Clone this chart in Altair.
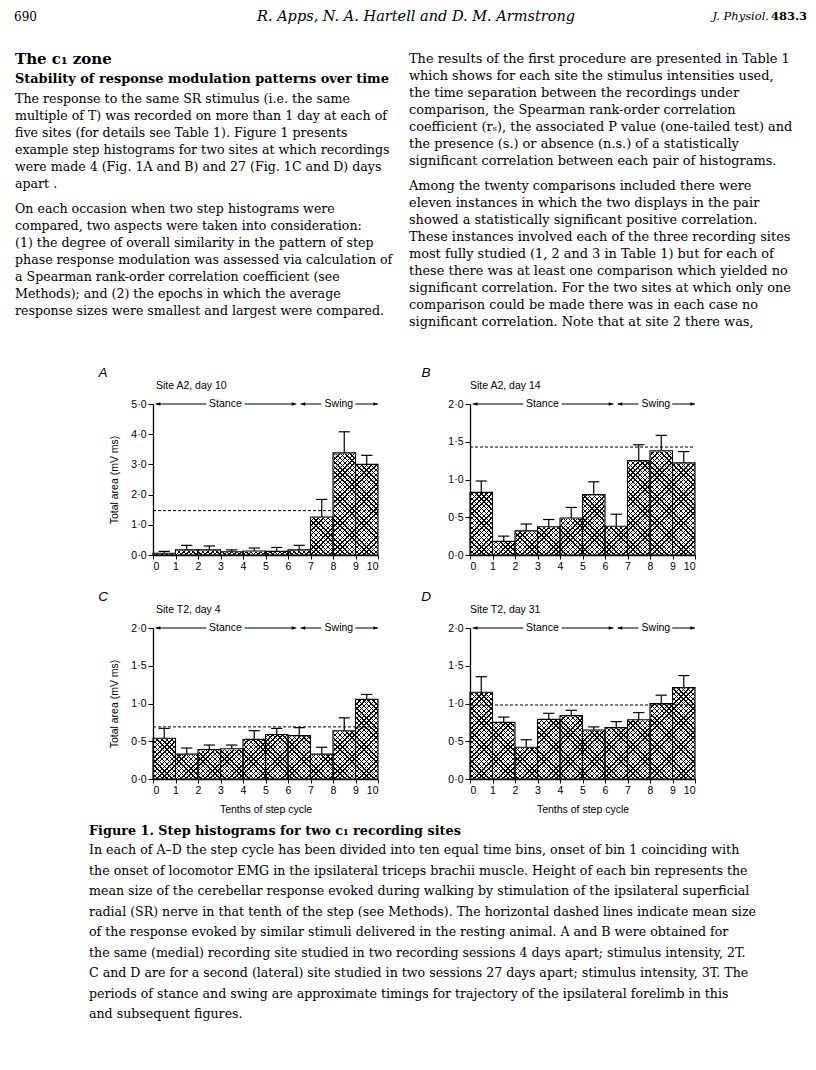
import altair as alt
import pandas as pd

# ---------------- data ----------------
BIN_START = [0, 1, 2, 3, 4, 5, 6, 7, 8, 9]
BIN_END = [1, 2, 3, 4, 5, 6, 7, 8, 9, 10]
X_TICKS = [0, 1, 2, 3, 4, 5, 6, 7, 8, 9, 10]

A_MEAN = [0.06, 0.17, 0.17, 0.11, 0.13, 0.12, 0.17, 1.26, 3.38, 3.00]
A_ERR = [0.12, 0.32, 0.30, 0.17, 0.23, 0.25, 0.32, 1.84, 4.08, 3.30]
A_REST = 1.47
A_YTICKS = [0, 1, 2, 3, 4, 5]

B_MEAN = [0.83, 0.18, 0.32, 0.375, 0.49, 0.80, 0.38, 1.25, 1.38, 1.22]
B_ERR = [0.98, 0.25, 0.41, 0.47, 0.63, 0.97, 0.54, 1.46, 1.585, 1.37]
B_REST = 1.43

C_MEAN = [0.54, 0.33, 0.39, 0.40, 0.525, 0.59, 0.575, 0.33, 0.64, 1.055]
C_ERR = [0.67, 0.41, 0.45, 0.45, 0.64, 0.67, 0.68, 0.42, 0.81, 1.12]
C_REST = 0.69

D_MEAN = [1.15, 0.75, 0.42, 0.79, 0.84, 0.65, 0.68, 0.785, 1.00, 1.21]
D_ERR = [1.355, 0.82, 0.52, 0.87, 0.91, 0.69, 0.76, 0.88, 1.11, 1.37]
D_REST = 0.98

SMALL_YTICKS = [0, 0.5, 1.0, 1.5, 2.0]

PHASE_LABELS = ["Stance", "Swing"]
PHASE_LABEL_X = [3.22, 8.26]
PHASE_SEG_START = [0.12, 4.07, 6.56, 8.99]
PHASE_SEG_END = [2.37, 6.37, 7.48, 10.0]
ARROW_LEFT_X = [0.12, 6.56]
ARROW_RIGHT_X = [6.37, 10.0]

SITES = ["Site A2, day 10", "Site A2, day 14", "Site T2, day 4", "Site T2, day 31"]
LETTERS = ["A", "B", "C", "D"]

# ---------------- page text ----------------
HEADER_PAGE = "690"
HEADER_AUTHORS = "R. Apps, N. A. Hartell and D. M. Armstrong"
HEADER_JOURNAL = "J. Physiol."
HEADER_VOLUME = "483.3"

HEADINGS = ["The c\u2081 zone", "Stability of response modulation patterns over time"]

LEFT_P1 = [
    "The response to the same SR stimulus (i.e. the same",
    "multiple of T) was recorded on more than 1 day at each of",
    "five sites (for details see Table 1). Figure 1 presents",
    "example step histograms for two sites at which recordings",
    "were made 4 (Fig. 1A and B) and 27 (Fig. 1C and D) days",
    "apart .",
]
LEFT_P2 = [
    "On each occasion when two step histograms were",
    "compared, two aspects were taken into consideration:",
    "(1) the degree of overall similarity in the pattern of step",
    "phase response modulation was assessed via calculation of",
    "a Spearman rank-order correlation coefficient (see",
    "Methods); and (2) the epochs in which the average",
    "response sizes were smallest and largest were compared.",
]
RIGHT_P1 = [
    "The results of the first procedure are presented in Table 1",
    "which shows for each site the stimulus intensities used,",
    "the time separation between the recordings under",
    "comparison, the Spearman rank-order correlation",
    "coefficient (r\u209b), the associated P value (one-tailed test) and",
    "the presence (s.) or absence (n.s.) of a statistically",
    "significant correlation between each pair of histograms.",
]
RIGHT_P2 = [
    "Among the twenty comparisons included there were",
    "eleven instances in which the two displays in the pair",
    "showed a statistically significant positive correlation.",
    "These instances involved each of the three recording sites",
    "most fully studied (1, 2 and 3 in Table 1) but for each of",
    "these there was at least one comparison which yielded no",
    "significant correlation. For the two sites at which only one",
    "comparison could be made there was in each case no",
    "significant correlation. Note that at site 2 there was,",
]
CAPTION_TITLE = "Figure 1.  Step histograms for two c\u2081 recording sites"
CAPTION = [
    "In each of A\u2013D the step cycle has been divided into ten equal time bins, onset of bin 1 coinciding with",
    "the onset of locomotor EMG in the ipsilateral triceps brachii muscle. Height of each bin represents the",
    "mean size of the cerebellar response evoked during walking by stimulation of the ipsilateral superficial",
    "radial (SR) nerve in that tenth of the step (see Methods). The horizontal dashed lines indicate mean size",
    "of the response evoked by similar stimuli delivered in the resting animal. A and B were obtained for",
    "the same (medial) recording site studied in two recording sessions 4 days apart; stimulus intensity, 2T.",
    "C and D are for a second (lateral) site studied in two sessions 27 days apart; stimulus intensity, 3T. The",
    "periods of stance and swing are approximate timings for trajectory of the ipsilateral forelimb in this",
    "and subsequent figures.",
]

# ---------------- layout (page px; A plot origin at 152,402) ----------------
W, H = 225, 151
OX, OY = 152, 402
SANS = "Liberation Sans"
SERIF = "DejaVu Serif"

# cross-hatch fill: two families of 45-degree lines made from gradient stops
HATCH_PERIOD = 3.4   # px, perpendicular spacing
HATCH_LINE = 1.0     # px, line thickness


def hatch_gradient(direction):
    r = W / H
    dy = (1 + r) / (1 + r * r)
    dx = r * dy
    diag = W + H
    step = HATCH_PERIOD * 2 ** 0.5 / diag
    lw = HATCH_LINE * 2 ** 0.5 / diag
    stops = []
    k = 0
    while k * step < 1:
        a = k * step
        b = min(a + lw, 1)
        c = min(a + step, 1)
        stops += [alt.GradientStop(offset=a, color="black"),
                  alt.GradientStop(offset=b, color="black"),
                  alt.GradientStop(offset=b, color="rgba(0,0,0,0)"),
                  alt.GradientStop(offset=c, color="rgba(0,0,0,0)")]
        k += 1
    if direction == 1:
        return alt.LinearGradient(gradient="linear", stops=stops, x1=0, y1=0, x2=dx, y2=dy)
    return alt.LinearGradient(gradient="linear", stops=stops, x1=1, y1=0, x2=1 - dx, y2=dy)


GRAD1 = hatch_gradient(1)
GRAD2 = hatch_gradient(2)


def rel_lines(lines, x, y0, step):
    return pd.DataFrame({
        "px": [x - OX] * len(lines),
        "py": [y0 + step * i - OY for i in range(len(lines))],
        "t": lines,
    })


def page_text(df, **kw):
    return alt.Chart(df).mark_text(baseline="middle", color="black", **kw).encode(
        x=alt.X("px:Q", scale=None, axis=None),
        y=alt.Y("py:Q", scale=None, axis=None),
        text="t:N",
    )


def page_layers():
    layers = []
    anchor = pd.DataFrame({"px": [8 - OX], "py": [8 - OY]})
    layers.append(alt.Chart(anchor).mark_point(size=1, opacity=0, shape="square").encode(
        x=alt.X("px:Q", scale=None, axis=None), y=alt.Y("py:Q", scale=None, axis=None)))
    layers.append(page_text(rel_lines([HEADER_PAGE], 13, 14.5, 0), font=SERIF, fontSize=12,
                            align="left"))
    layers.append(page_text(rel_lines([HEADER_AUTHORS], 415, 14.5, 0), font=SERIF, fontSize=14.5,
                            fontStyle="italic", align="center"))
    layers.append(page_text(rel_lines([HEADER_JOURNAL], 768, 14.5, 0), font=SERIF, fontSize=11.5,
                            fontStyle="italic", align="right"))
    layers.append(page_text(rel_lines([HEADER_VOLUME], 806, 14.5, 0), font=SERIF, fontSize=11.5,
                            fontWeight="bold", align="right"))
    layers.append(page_text(rel_lines(HEADINGS[:1], 14, 57, 0), font=SERIF, fontSize=15,
                            fontWeight="bold", align="left"))
    layers.append(page_text(rel_lines(HEADINGS[1:], 14, 77, 0), font=SERIF, fontSize=12.9,
                            fontWeight="bold", align="left"))
    left = pd.concat([rel_lines(LEFT_P1, 14, 97, 17), rel_lines(LEFT_P2, 14, 207, 17)])
    right = pd.concat([rel_lines(RIGHT_P1, 408, 57, 17), rel_lines(RIGHT_P2, 408, 184, 17)])
    layers.append(page_text(left, font=SERIF, fontSize=12.6, align="left"))
    layers.append(page_text(right, font=SERIF, fontSize=12.9, align="left"))
    layers.append(page_text(rel_lines([CAPTION_TITLE], 88, 829, 0), font=SERIF, fontSize=12.8,
                            fontWeight="bold", align="left"))
    layers.append(page_text(rel_lines(CAPTION, 88, 848, 20.5), font=SERIF, fontSize=12.6,
                            align="left"))
    return layers


def panel(idx, mean, err, rest, ymax, yticks, show_ytitle, show_xtitle):
    df = pd.DataFrame({"start": BIN_START, "end": BIN_END, "mean": mean, "err": err})
    df["base"] = 0.0
    df["top"] = float(ymax)
    df["mid"] = [(s + e) / 2 for s, e in zip(BIN_START, BIN_END)]
    df["capl"] = df["mid"] - 0.25
    df["capr"] = df["mid"] + 0.25

    xs = alt.Scale(domain=[0, 10], nice=False, zero=False)
    ys = alt.Scale(domain=[0, ymax], nice=False)
    xtitle = "Tenths of step cycle" if show_xtitle else None
    ytitle = "Total area (mV ms)" if show_ytitle else None

    xax = alt.Axis(values=X_TICKS, format="d", labelFontSize=10.5, labelPadding=2, tickSize=4,
                   titleX=W / 2, titleY=30, titleBaseline="middle", titleFontSize=10.5, zindex=1)
    yax = alt.Axis(values=yticks, format=".1f", labelExpr="replace(datum.label, '.', '\u00b7')",
                   labelFontSize=10.5, labelPadding=2, tickSize=5,
                   titleX=-39, titleY=H / 2, titleAngle=270, titleBaseline="middle",
                   titleAlign="center", titleFontSize=10.5, zindex=1)

    def X(field):
        return alt.X(field, scale=xs, axis=xax, title=xtitle)

    def Y(field):
        return alt.Y(field, scale=ys, axis=yax, title=ytitle)

    frame = pd.DataFrame({"x0": [0], "x1": [10], "y0": [0.0], "y1": [float(ymax)]})
    hatch1 = alt.Chart(frame).mark_rect(fill=GRAD1, strokeWidth=0).encode(
        x=X("x0:Q"), x2="x1:Q", y=Y("y0:Q"), y2="y1:Q")
    hatch2 = alt.Chart(frame).mark_rect(fill=GRAD2, strokeWidth=0).encode(
        x=X("x0:Q"), x2="x1:Q", y=Y("y0:Q"), y2="y1:Q")
    mask = alt.Chart(df).mark_rect(fill="white", stroke="white", strokeWidth=1.2).encode(
        x=X("start:Q"), x2="end:Q", y=Y("mean:Q"), y2="top:Q")
    bars = alt.Chart(df).mark_bar(fillOpacity=0, stroke="black", strokeWidth=1.1).encode(
        x=X("start:Q"), x2="end:Q", y=Y("mean:Q"), y2="base:Q")
    errl = alt.Chart(df).mark_rule(color="black", strokeWidth=1.2).encode(
        x=X("mid:Q"), y=Y("mean:Q"), y2="err:Q")
    caps = alt.Chart(df).mark_rule(color="black", strokeWidth=1.2).encode(
        x=X("capl:Q"), x2="capr:Q", y=Y("err:Q"))
    rest_df = pd.DataFrame({"x0": [0], "x1": [10], "rest": [rest]})
    dash = alt.Chart(rest_df).mark_rule(color="black", strokeWidth=1, strokeDash=[3, 2]).encode(
        x=X("x0:Q"), x2="x1:Q", y=Y("rest:Q"))

    seg_df = pd.DataFrame({"s": PHASE_SEG_START, "e": PHASE_SEG_END})
    segs = alt.Chart(seg_df).mark_rule(color="black", strokeWidth=1).encode(
        x=X("s:Q"), x2="e:Q", y=alt.value(0))
    left_df = pd.DataFrame({"ax": ARROW_LEFT_X})
    right_df = pd.DataFrame({"ax": ARROW_RIGHT_X})
    arr_l = alt.Chart(left_df).mark_point(shape="M0,0L1.2,-0.45L1.2,0.45Z", filled=True,
                                          color="black", size=60, opacity=1).encode(
        x=X("ax:Q"), y=alt.value(0))
    arr_r = alt.Chart(right_df).mark_point(shape="M0,0L-1.2,-0.45L-1.2,0.45Z", filled=True,
                                           color="black", size=60, opacity=1).encode(
        x=X("ax:Q"), y=alt.value(0))
    lab_df = pd.DataFrame({"lx": PHASE_LABEL_X, "t": PHASE_LABELS})
    labs = alt.Chart(lab_df).mark_text(font=SANS, fontSize=10.5, baseline="middle",
                                       color="black").encode(
        x=X("lx:Q"), y=alt.value(0), text="t:N")

    site_dx = 3 if idx % 2 == 0 else 0
    letter_dx = -50 if idx % 2 == 0 else -44
    site = alt.Chart(pd.DataFrame({"t": [SITES[idx]]})).mark_text(
        font=SANS, fontSize=10.5, baseline="middle", align="left", color="black").encode(
        x=alt.value(site_dx), y=alt.value(-18.5), text="t:N")
    letter = alt.Chart(pd.DataFrame({"t": [LETTERS[idx]]})).mark_text(
        font=SANS, fontSize=13.5, fontStyle="italic", baseline="middle", align="center",
        color="black").encode(
        x=alt.value(letter_dx), y=alt.value(-31.5), text="t:N")

    layers = [hatch1, hatch2, mask, bars, errl, caps, dash, segs, arr_l, arr_r, labs, site, letter]
    if idx == 0:
        layers += page_layers()
    return alt.layer(*layers).properties(width=W, height=H)


pA = panel(0, A_MEAN, A_ERR, A_REST, 5, A_YTICKS, True, False)
pB = panel(1, B_MEAN, B_ERR, B_REST, 2, SMALL_YTICKS, False, False)
pC = panel(2, C_MEAN, C_ERR, C_REST, 2, SMALL_YTICKS, True, True)
pD = panel(3, D_MEAN, D_ERR, D_REST, 2, SMALL_YTICKS, False, True)

chart = alt.concat(
    pA, pB, pC, pD, columns=2, spacing={"row": 73, "column": 92}, bounds="flush"
).properties(padding=0).configure_view(stroke=None).configure_axis(
    domainColor="black", domainWidth=1.3, tickColor="black", tickWidth=1,
    labelColor="black", titleColor="black", labelFont=SANS, titleFont=SANS,
    titleFontWeight="normal", grid=False,
)

chart.save("out.html", embed_options={"renderer": "svg", "actions": False})
